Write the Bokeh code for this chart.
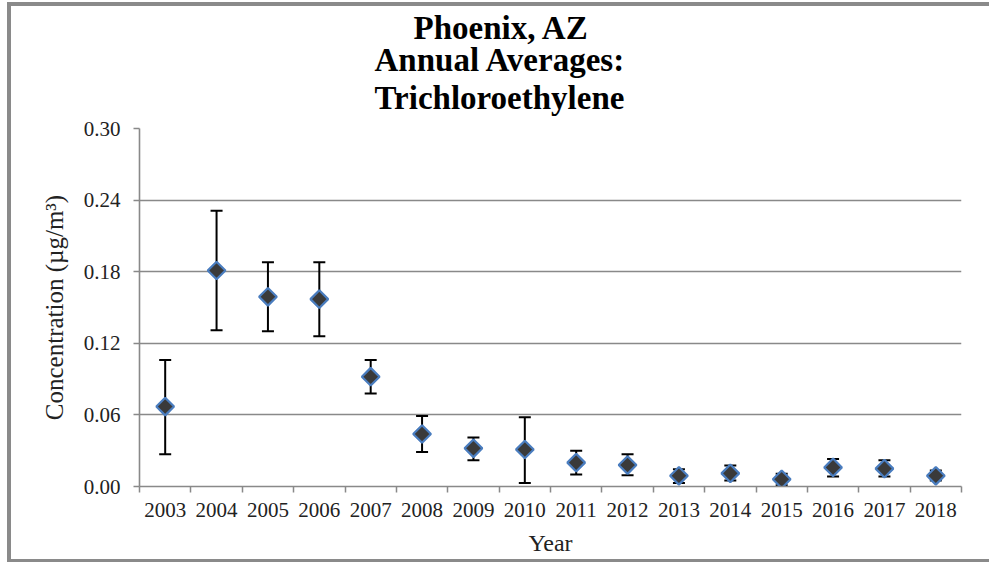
import numpy as np
from bokeh.plotting import figure
from bokeh.models import (ColumnDataSource, Whisker, TeeHead, FixedTicker, Title,
                          Range1d, NumeralTickFormatter)
from bokeh.embed import file_html
from bokeh.resources import INLINE

# ---- data ----
years = [2003, 2004, 2005, 2006, 2007, 2008, 2009, 2010,
         2011, 2012, 2013, 2014, 2015, 2016, 2017, 2018]
means = [0.067, 0.181, 0.159, 0.157, 0.092, 0.044, 0.032, 0.031,
         0.020, 0.018, 0.009, 0.011, 0.006, 0.016, 0.015, 0.009]
upper = [0.106, 0.231, 0.188, 0.188, 0.106, 0.059, 0.041, 0.058,
         0.030, 0.027, 0.0145, 0.0176, 0.0106, 0.023, 0.022, 0.0134]
lower = [0.027, 0.131, 0.130, 0.126, 0.078, 0.029, 0.022, 0.003,
         0.010, 0.0095, 0.003, 0.005, 0.001, 0.0084, 0.0084, 0.005]
y_ticks = [0.00, 0.06, 0.12, 0.18, 0.24, 0.30]
title_lines = ["Phoenix, AZ", "Annual Averages:", "Trichloroethylene"]
x_label = "Year"
y_label = "Concentration (\u00b5g/m\u00b3)"

FONT = "Liberation Serif"
GRAY = "#898989"
BORDER = "#8a8a8a"

src = ColumnDataSource(dict(x=years, y=means, upper=upper, lower=lower))

p = figure(frame_width=822, frame_height=358,
           min_border_left=139, min_border_top=128, min_border_right=28, min_border_bottom=76,
           x_range=Range1d(years[0] - 0.5, years[-1] + 0.5),
           y_range=Range1d(y_ticks[0], y_ticks[-1]),
           output_backend="svg", toolbar_location=None)

p.outline_line_color = None
p.background_fill_color = "white"
p.border_fill_color = None

# grid
p.xgrid.grid_line_color = None
p.ygrid.grid_line_color = GRAY
p.ygrid.grid_line_width = 1.6
p.ygrid.ticker = FixedTicker(ticks=y_ticks)

# x axis: labels at category centres, ticks at boundaries (minor ticks)
boundaries = [y - 0.5 for y in years] + [years[-1] + 0.5]
p.xaxis.ticker = FixedTicker(ticks=years, minor_ticks=boundaries)
p.xaxis.major_label_overrides = {y: str(y) for y in years}
p.xaxis.major_tick_out = 0
p.xaxis.major_tick_in = 0
p.xaxis.minor_tick_out = 6
p.xaxis.minor_tick_in = 0
p.xaxis.minor_tick_line_color = GRAY
p.xaxis.minor_tick_line_width = 1.5
p.xaxis.axis_line_color = GRAY
p.xaxis.axis_line_width = 1.6
p.xaxis.major_label_standoff = 10
p.xaxis.major_label_text_font = FONT
p.xaxis.major_label_text_font_size = "21px"
p.xaxis.major_label_text_color = "#222222"
p.xaxis.axis_label = x_label
p.xaxis.axis_label_text_font = FONT
p.xaxis.axis_label_text_font_style = "normal"
p.xaxis.axis_label_text_font_size = "24px"
p.xaxis.axis_label_text_color = "#222222"
p.xaxis.axis_label_standoff = 10

# y axis
p.yaxis.ticker = FixedTicker(ticks=y_ticks)
p.yaxis.formatter = NumeralTickFormatter(format="0.00")
p.yaxis.major_tick_out = 6
p.yaxis.major_tick_in = 0
p.yaxis.minor_tick_line_color = None
p.yaxis.major_tick_line_color = GRAY
p.yaxis.major_tick_line_width = 1.5
p.yaxis.axis_line_color = GRAY
p.yaxis.axis_line_width = 1.6
p.yaxis.major_label_standoff = 13
p.yaxis.major_label_text_font = FONT
p.yaxis.major_label_text_font_size = "21px"
p.yaxis.major_label_text_color = "#222222"
p.yaxis.axis_label = y_label
p.yaxis.axis_label_text_font = FONT
p.yaxis.axis_label_text_font_style = "normal"
p.yaxis.axis_label_text_font_size = "25px"
p.yaxis.axis_label_text_color = "#222222"
p.yaxis.axis_label_standoff = 13

# error bars
wh = Whisker(source=src, base="x", upper="upper", lower="lower",
             line_color="black", line_width=2,
             upper_head=TeeHead(size=12, line_color="black", line_width=2),
             lower_head=TeeHead(size=12, line_color="black", line_width=2),
             level="underlay")
p.add_layout(wh)

# markers (diamonds)
p.scatter("x", "y", source=src, marker="square", angle=np.pi / 4, size=12.5,
          fill_color="#3a3a3a", line_color="#4a7dbf", line_width=2.2)

# title: three lines, nearest-to-frame added first
title_offsets = [274, 235, 235]
title_standoffs = [11, -24, 25]
for txt, off, so in reversed(list(zip(title_lines, title_offsets, title_standoffs))):
    p.add_layout(Title(text=txt, align="left", offset=off, standoff=so,
                       text_font=FONT, text_font_style="bold", text_font_size="33px",
                       text_color="black"), "above")

p.styles = {"box-shadow": (f"inset 7px 2px 0 0 white, inset 11px 6px 0 0 {BORDER}, "
                           f"inset 0 -3px 0 0 {BORDER}"),
            "background-color": "white"}

open("out.html", "w").write(file_html(p, INLINE))
